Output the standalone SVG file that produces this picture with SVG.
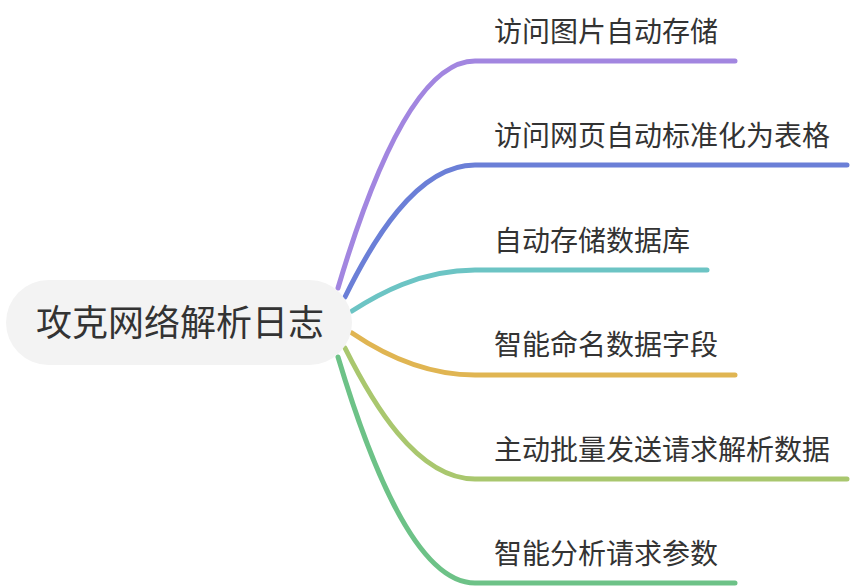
<svg xmlns="http://www.w3.org/2000/svg" width="852" height="588" viewBox="0 0 852 588">
<style>
.lbl{font-family:"Noto Sans CJK SC","Noto Sans",sans-serif;font-size:28px;fill:#333333}
.root{font-family:"Noto Sans CJK SC","Noto Sans",sans-serif;font-size:36px;fill:#333333}
.ln{fill:none;stroke-width:5;stroke-linecap:round}
</style>
<rect width="852" height="588" fill="#ffffff"/>
<g id="connectors">
<path class="ln" stroke="#a286e0" d="M338 288 C365 197 413 61 475 61 L735 61"/>
<path class="ln" stroke="#6b7fd7" d="M345 297 C371 244 416 165 475 165 L847 165"/>
<path class="ln" stroke="#6cc4c4" d="M352 311 C377 295 420 270 475 270 L707 270"/>
<path class="ln" stroke="#e0b552" d="M352 333 C377 350 420 375 475 375 L735 375"/>
<path class="ln" stroke="#a9c76e" d="M345 348 C371 400 416 479 475 479 L847 479"/>
<path class="ln" stroke="#6dc287" d="M338 357 C365 447 413 583 475 583 L735 583"/>
</g>
<g id="root">
<rect x="6" y="280" width="346" height="85" rx="42.5" fill="#f3f3f3"/>
<text class="root" x="180" y="336" text-anchor="middle">攻克网络解析日志</text>
</g>
<g id="n1"><text class="lbl" x="494" y="42">访问图片自动存储</text></g>
<g id="n2"><text class="lbl" x="494" y="146">访问网页自动标准化为表格</text></g>
<g id="n3"><text class="lbl" x="494" y="251">自动存储数据库</text></g>
<g id="n4"><text class="lbl" x="494" y="355">智能命名数据字段</text></g>
<g id="n5"><text class="lbl" x="494" y="460">主动批量发送请求解析数据</text></g>
<g id="n6"><text class="lbl" x="494" y="564">智能分析请求参数</text></g>
</svg>
